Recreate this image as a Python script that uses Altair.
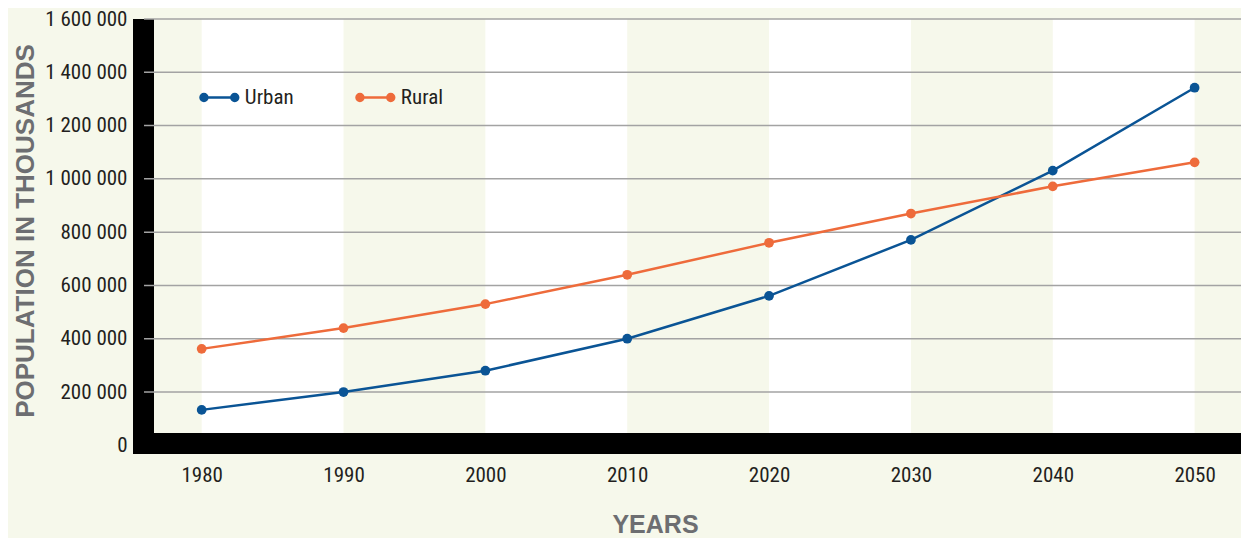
import altair as alt
import pandas as pd

# ---- data ----
YEARS = [1980, 1990, 2000, 2010, 2020, 2030, 2040, 2050]
URBAN = [133000, 200000, 280000, 400000, 561000, 771000, 1031000, 1342000]
RURAL = [362000, 440000, 530000, 640000, 760000, 870000, 972000, 1062000]
SERIES = ["Urban", "Rural"]
COLORS = ["#0a5495", "#ee6b3b"]
Y_TICKS = [0, 200000, 400000, 600000, 800000, 1000000, 1200000, 1400000, 1600000]
GRID_VALUES = [200000, 400000, 600000, 800000, 1000000, 1200000, 1400000, 1600000]
BAND_START = [1980, 2000, 2020, 2040]
BAND_END = [1990, 2010, 2030, 2050]

# ---- layout ----
W, H = 1086, 435
X_DOMAIN = [1976.71, 2053.27]
Y_DOMAIN = [-32576, 1600000]
BG = "#f6f8eb"
GRID = "#a3a3a3"
LABEL_FONT = "'Noto Sans Condensed', 'Roboto Condensed', 'Liberation Sans Narrow', 'DejaVu Sans Condensed', sans-serif"
TITLE_FONT = "'Liberation Sans', Arial, sans-serif"
TEXT = "#231f20"
TITLE_COL = "#6d6e71"

# legend symbol: dot - line - dot
LEG_PATH = ("M-0.98,0 A0.18,0.18 0 1,0 -0.62,0 A0.18,0.18 0 1,0 -0.98,0 Z "
            "M-0.8,0 L0.8,0 "
            "M0.62,0 A0.18,0.18 0 1,0 0.98,0 A0.18,0.18 0 1,0 0.62,0 Z")

df = pd.DataFrame({
    "year": YEARS + YEARS,
    "value": URBAN + RURAL,
    "series": [SERIES[0]] * len(YEARS) + [SERIES[1]] * len(YEARS),
})
bands = pd.DataFrame({"start": BAND_START, "end": BAND_END})
grid = pd.DataFrame({"v": GRID_VALUES})
one = pd.DataFrame({"k": [0]})

xs = alt.Scale(domain=X_DOMAIN, nice=False, zero=False)
ys = alt.Scale(domain=Y_DOMAIN, nice=False, zero=False)

x_axis = alt.Axis(
    values=YEARS, format="d", domain=False, ticks=False, grid=False,
    labelFont=LABEL_FONT, labelFontSize=21, labelColor=TEXT, labelPadding=10,
    labelFlush=False, labelOverlap=False, labelBound=False,
    title="YEARS", titleFont=TITLE_FONT, titleFontSize=25, titleFontWeight=900,
    titleColor=TITLE_COL, titleX=500, titleY=78, titleAlign="center",
    titleBaseline="alphabetic",
)
y_axis = alt.Axis(
    values=Y_TICKS,
    labelExpr="replace(format(datum.value, ','), regexp(',', 'g'), ' ')",
    domain=False, ticks=False, grid=False,
    labelFont=LABEL_FONT, labelFontSize=21, labelColor=TEXT, labelPadding=28,
    labelFlush=False, labelOverlap=False, labelBound=False,
    title="POPULATION IN THOUSANDS", titleFont=TITLE_FONT, titleFontSize=26,
    titleFontWeight=900, titleColor=TITLE_COL, titleAngle=270,
    titleX=-122, titleY=211.5, titleAlign="center", titleBaseline="alphabetic",
)

legend = alt.Legend(
    orient="none", legendX=43.85, legendY=57.75, direction="horizontal",
    title=None, symbolType=LEG_PATH, symbolSize=1482, symbolStrokeWidth=2.5,
    symbolOpacity=1, labelFont=LABEL_FONT, labelFontSize=21, labelColor=TEXT,
    labelOffset=5, columnPadding=57, padding=0,
)
color = alt.Color("series:N", scale=alt.Scale(domain=SERIES, range=COLORS), legend=legend)

band_layer = alt.Chart(bands).mark_rect(color="white").encode(
    x=alt.X("start:Q", scale=xs, axis=x_axis),
    x2="end:Q",
    y=alt.value(0),
    y2=alt.value(H),
)

left_bar = alt.Chart(one).mark_rect(color="black").encode(
    x=alt.value(-22), x2=alt.value(-1), y=alt.value(0), y2=alt.value(H),
)
bottom_bar = alt.Chart(one).mark_rect(color="black").encode(
    x=alt.value(-22), x2=alt.value(W), y=alt.value(414), y2=alt.value(H),
)

grid_layer = alt.Chart(grid).mark_rule(color=GRID, strokeWidth=1.5).encode(
    y=alt.Y("v:Q", scale=ys, axis=y_axis),
    x=alt.value(-11),
    x2=alt.value(W),
)

lines = alt.Chart(df).mark_line(strokeWidth=2.5).encode(
    x=alt.X("year:Q", scale=xs, axis=x_axis),
    y=alt.Y("value:Q", scale=ys, axis=y_axis),
    color=color,
)
points = alt.Chart(df).mark_circle(size=95, opacity=1).encode(
    x=alt.X("year:Q", scale=xs, axis=x_axis),
    y=alt.Y("value:Q", scale=ys, axis=y_axis),
    color=color,
)

chart = alt.layer(band_layer, left_bar, bottom_bar, grid_layer, lines, points).properties(
    width=W, height=H,
    autosize=alt.AutoSizeParams(type="none"),
    padding={"left": 147, "top": 11, "right": 0, "bottom": 90},
    background=BG,
).configure_view(strokeWidth=0, fill=BG)

chart.save("out.html", embed_options={"renderer": "svg", "actions": False})
